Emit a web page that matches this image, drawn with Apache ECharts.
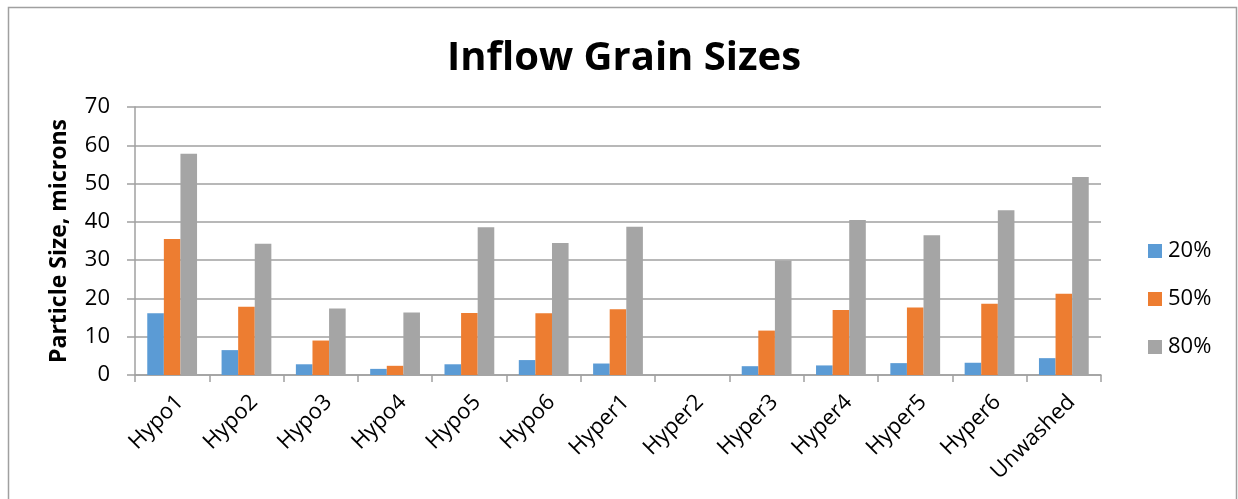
<!DOCTYPE html>
<html>
<head>
<meta charset="utf-8">
<style>
  html, body { margin: 0; padding: 0; background: #fff; }
  #chart { width: 1238px; height: 499px; }
</style>
<script src="https://cdn.jsdelivr.net/npm/echarts@6/dist/echarts.min.js"></script>
</head>
<body>
<div id="chart"></div>
<script>
// Sample names along the x axis
const categories = ['Hypo1', 'Hypo2', 'Hypo3', 'Hypo4', 'Hypo5', 'Hypo6',
  'Hyper1', 'Hyper2', 'Hyper3', 'Hyper4', 'Hyper5', 'Hyper6', 'Unwashed'];

// Percentile grain sizes (microns); Hyper2 has no measurement
const d20 = [16.1, 6.5, 2.8, 1.6, 2.8, 3.9, 3.0, null, 2.3, 2.5, 3.1, 3.2, 4.4];
const d50 = [35.5, 17.8, 9.0, 2.4, 16.2, 16.1, 17.2, null, 11.6, 17.0, 17.6, 18.6, 21.2];
const d80 = [57.8, 34.3, 17.4, 16.3, 38.6, 34.5, 38.7, null, 29.9, 40.5, 36.5, 43.0, 51.7];

const seriesNames = ['20%', '50%', '80%'];
const seriesColors = ['#5B9BD5', '#ED7D31', '#A5A5A5'];
const yTicks = { min: 0, max: 70, interval: 10 };

const FONT = '"Open Sans", "DejaVu Sans", sans-serif';
const chart = echarts.init(document.getElementById('chart'), null, { renderer: 'canvas' });

const makeSeries = (name, data, color) => ({
  name,
  type: 'bar',
  data,
  barGap: '0%',
  barCategoryGap: '33%',
  itemStyle: { color },
  emphasis: { disabled: true }
});

chart.setOption({
  animation: false,
  backgroundColor: '#ffffff',
  textStyle: { fontFamily: FONT },
  title: {
    text: 'Inflow Grain Sizes',
    left: 447,
    top: 39,
    padding: 0,
    textStyle: { fontFamily: FONT, fontSize: 40, fontWeight: 'bold', color: '#000' }
  },
  graphic: [{
    type: 'rect',
    silent: true,
    shape: { x: 8.5, y: 7.5, width: 1228, height: 520 },
    style: { fill: 'none', stroke: '#a0a0a0', lineWidth: 1.5 }
  }],
  legend: {
    orient: 'vertical',
    left: 1143,
    top: 235,
    itemWidth: 14,
    itemHeight: 14,
    itemGap: 26,
    icon: 'rect',
    textStyle: { fontFamily: FONT, fontSize: 22, color: '#000', padding: [0, 0, 0, 1] },
    data: seriesNames
  },
  grid: { left: 135, right: 137, top: 107, bottom: 124, containLabel: false },
  xAxis: {
    type: 'category',
    data: categories,
    axisLine: { lineStyle: { color: '#a0a0a0', width: 1.5 } },
    axisTick: { show: true, length: 7, lineStyle: { color: '#a0a0a0', width: 1.5 } },
    axisLabel: { rotate: 45, margin: 16, verticalAlign: 'top', fontFamily: FONT, fontSize: 22, color: '#000' },
    splitLine: { show: false }
  },
  yAxis: {
    type: 'value',
    min: yTicks.min,
    max: yTicks.max,
    interval: yTicks.interval,
    name: 'Particle Size, microns',
    nameLocation: 'middle',
    nameGap: 64,
    nameRotate: 90,
    nameTextStyle: { fontFamily: FONT, fontSize: 23, fontWeight: 'bold', color: '#000' },
    axisLine: { show: true, lineStyle: { color: '#a0a0a0', width: 1.5 } },
    axisTick: { show: true, length: 8, lineStyle: { color: '#a0a0a0', width: 1.5 } },
    axisLabel: { margin: 25, fontFamily: FONT, fontSize: 22, color: '#000' },
    splitLine: { lineStyle: { color: '#a0a0a0', width: 1.5 } }
  },
  series: [
    makeSeries(seriesNames[0], d20, seriesColors[0]),
    makeSeries(seriesNames[1], d50, seriesColors[1]),
    makeSeries(seriesNames[2], d80, seriesColors[2])
  ]
});
</script>
</body>
</html>
